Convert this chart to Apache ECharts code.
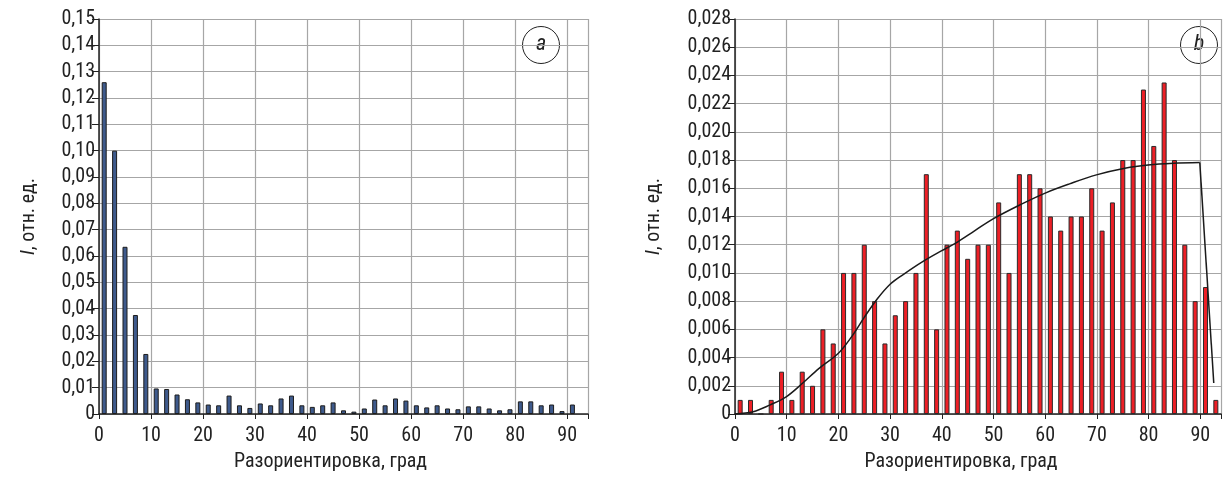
<!DOCTYPE html>
<html>
<head>
<meta charset="utf-8">
<title>Разориентировка</title>
<script src="https://cdn.jsdelivr.net/npm/echarts@6/dist/echarts.min.js"></script>
<style>
  html, body { margin: 0; padding: 0; background: #fff; }
  #chart { width: 1224px; height: 477px; }
</style>
</head>
<body>
<div id="chart"></div>
<script>
// (a) распределение, синие столбцы
const anglesA = [1, 3, 5, 7, 9, 11, 13, 15, 17, 19, 21, 23, 25, 27, 29, 31, 33, 35, 37, 39, 41, 43, 45,
  47, 49, 51, 53, 55, 57, 59, 61, 63, 65, 67, 69, 71, 73, 75, 77, 79, 81, 83, 85, 87, 89, 91]
const valuesA = [0.126, 0.100, 0.0635, 0.0376, 0.0228, 0.0097, 0.0095, 0.0074, 0.0056, 0.0044, 0.0036, 0.0033,
  0.007, 0.0033, 0.0023, 0.004, 0.0033, 0.0059, 0.007, 0.0033, 0.0027, 0.0033, 0.0044, 0.0014, 0.0009,
  0.0021, 0.0055, 0.0033, 0.0059, 0.0051, 0.0033, 0.0025, 0.0033, 0.0021, 0.0018, 0.0029, 0.0029, 0.0021,
  0.0014, 0.0018, 0.0048, 0.0048, 0.0033, 0.0036, 0.0011, 0.0036]

// (b) распределение, красные столбцы
const anglesB = [1, 3, 5, 7, 9, 11, 13, 15, 17, 19, 21, 23, 25, 27, 29, 31, 33, 35, 37, 39, 41, 43, 45,
  47, 49, 51, 53, 55, 57, 59, 61, 63, 65, 67, 69, 71, 73, 75, 77, 79, 81, 83, 85, 87, 89, 91, 93]
const valuesB = [0.001, 0.001, 0, 0.001, 0.003, 0.001, 0.003, 0.002, 0.006, 0.005, 0.010, 0.010, 0.012,
  0.008, 0.005, 0.007, 0.008, 0.010, 0.017, 0.006, 0.012, 0.013, 0.011, 0.012, 0.012, 0.015, 0.010,
  0.017, 0.017, 0.016, 0.014, 0.013, 0.014, 0.014, 0.016, 0.013, 0.015, 0.018, 0.018, 0.023, 0.019,
  0.0235, 0.018, 0.012, 0.008, 0.009, 0.001]

// (b) теоретическая кривая (плавная часть) и спад после 90°
const curveAngles = [0, 3.5, 6.7, 9.9, 13, 16.2, 19.9, 22.5, 25, 27.5, 30, 32.6, 36.3, 40.1, 42.6, 46.4,
  50, 55.2, 60, 64.7, 69.9, 75.4, 79.9, 84.8, 89.9]
const curveValues = [0, 0.00016, 0.00063, 0.00122, 0.00216, 0.00322, 0.00427, 0.00545, 0.00685, 0.00815,
  0.0092, 0.0099, 0.0108, 0.0116, 0.0121, 0.0130, 0.01385, 0.01484, 0.01566, 0.01631, 0.01695, 0.01742,
  0.01765, 0.01777, 0.01782]
const dropAngles = [89.9, 92.6]
const dropValues = [0.01782, 0.0022]

const xTicks = [0, 10, 20, 30, 40, 50, 60, 70, 80, 90]

const FONT = "'Liberation Sans Narrow', 'Roboto Condensed', Roboto, sans-serif"
const gridColor = '#a6a6a6'
const axisColor = '#222'

const zip = (xs, ys) => xs.map((x, i) => [x, ys[i]])

const makeX = (gridIndex, padRight) => ({
  type: 'value',
  gridIndex,
  min: 0,
  max: 94,
  interval: 10,
  name: 'Разориентировка, град',
  nameLocation: 'middle',
  nameGap: 38,
  nameTextStyle: { fontFamily: FONT, fontSize: 20, color: '#222', padding: [0, padRight, 0, 0] },
  axisLine: { onZero: false, lineStyle: { color: axisColor, width: 1.5 } },
  axisTick: { length: 5, lineStyle: { color: axisColor } },
  axisLabel: {
    fontFamily: FONT, fontSize: 20, color: '#222', margin: 12,
    formatter: v => xTicks.includes(v) ? String(v) : ''
  },
  splitLine: { show: true, lineStyle: { color: gridColor, width: 1.2 } }
})

const makeY = (gridIndex, max, interval, digits, gap) => ({
  type: 'value',
  gridIndex,
  min: 0,
  max,
  interval,
  name: '{i|I}, отн. ед.',
  nameLocation: 'middle',
  nameGap: gap,
  nameTextStyle: {
    fontFamily: FONT, fontSize: 20, color: '#222',
    rich: { i: { fontFamily: FONT, fontSize: 20, fontStyle: 'italic', color: '#222' } }
  },
  axisLine: { show: true, lineStyle: { color: axisColor, width: 1.5 } },
  axisTick: { show: true, length: 7, lineStyle: { color: axisColor } },
  axisLabel: {
    fontFamily: FONT, fontSize: 20, color: '#222', margin: 4,
    formatter: v => v === 0 ? '0' : v.toFixed(digits).replace('.', ',')
  },
  splitLine: { show: true, lineStyle: { color: gridColor, width: 1.2 } }
})

const chart = echarts.init(document.getElementById('chart'), null, { renderer: 'canvas' })

const option = {
  backgroundColor: '#fff',
  animation: false,
  grid: [
    { left: 99, right: 636, top: 19, bottom: 59 },
    { left: 735, right: -8, top: 19, bottom: 59 }
  ],
  xAxis: [makeX(0, 26), makeX(1, 34)],
  yAxis: [makeY(0, 0.15, 0.01, 2, 60), makeY(1, 0.028, 0.002, 3, 71)],
  series: [
    {
      type: 'bar',
      xAxisIndex: 0,
      yAxisIndex: 0,
      barWidth: 5,
      itemStyle: { color: '#3e5a8c', borderColor: '#1c1c1c', borderWidth: 1 },
      data: zip(anglesA, valuesA)
    },
    {
      type: 'bar',
      xAxisIndex: 1,
      yAxisIndex: 1,
      barWidth: 5,
      itemStyle: { color: '#ed1f26', borderColor: '#2a2a2a', borderWidth: 1 },
      data: zip(anglesB, valuesB)
    },
    {
      type: 'line',
      xAxisIndex: 1,
      yAxisIndex: 1,
      symbol: 'none',
      smooth: 0.35,
      lineStyle: { color: '#1a1a1a', width: 1.5 },
      data: zip(curveAngles, curveValues),
      z: 5
    },
    {
      type: 'line',
      xAxisIndex: 1,
      yAxisIndex: 1,
      symbol: 'none',
      lineStyle: { color: '#1a1a1a', width: 1.5 },
      data: zip(dropAngles, dropValues),
      z: 5
    }
  ],
  graphic: [
    {
      type: 'group', left: 522, top: 26,
      children: [
        { type: 'circle', shape: { cx: 19, cy: 19, r: 18.5 }, style: { fill: '#fff', stroke: '#222', lineWidth: 1 } },
        { type: 'text', x: 19, y: 18, style: { text: 'a', font: 'italic 22px ' + FONT, fill: '#222', align: 'center', verticalAlign: 'middle' } }
      ]
    },
    {
      type: 'group', left: 1180, top: 26,
      children: [
        { type: 'circle', shape: { cx: 19, cy: 19, r: 18.5 }, style: { fill: '#fff', stroke: '#222', lineWidth: 1 } },
        { type: 'text', x: 19, y: 18, style: { text: 'b', font: 'italic 22px ' + FONT, fill: '#222', align: 'center', verticalAlign: 'middle' } }
      ]
    }
  ]
}

chart.setOption(option)
</script>
</body>
</html>
